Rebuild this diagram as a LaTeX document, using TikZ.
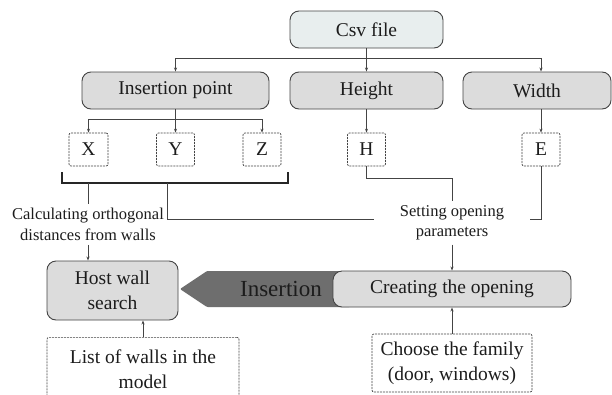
\documentclass[tikz,border=0pt]{standalone}
\usepackage{fontspec}
\setmainfont{Liberation Serif}
\usetikzlibrary{arrows.meta,calc}
\definecolor{ln}{HTML}{444444}
\definecolor{tx}{HTML}{1C1C1C}
\definecolor{csvfill}{HTML}{E8EEEE}
\definecolor{boxfill}{HTML}{DCDCDC}
\definecolor{arrfill}{HTML}{6E6E6E}
\tikzset{
  mainbox/.style={draw=ln, line width=0.9pt, rounded corners=9pt, fill=boxfill, text=tx,
    font=\fontsize{19.5}{23}\selectfont, inner sep=0pt, align=center},
  varbox/.style={draw=ln, dash pattern=on 2pt off 1pt, line width=0.7pt, rounded corners=2pt,
    text=tx, font=\fontsize{19.5}{23}\selectfont, inner sep=0pt, align=center},
  lbl/.style={text=tx, font=\fontsize{16.5}{20.5}\selectfont, align=center, inner sep=4pt},
  conn/.style={draw=ln, line width=0.7pt},
  arr/.style={conn, -{Stealth[length=4pt,width=3pt]}},
}
\begin{document}
\begin{tikzpicture}[x=1pt,y=-1pt]
\useasboundingbox (0,0) rectangle (612,394);
\fill[white] (0,0) rectangle (612,394);
% top level
\node[mainbox, fill=csvfill, minimum width=153pt, minimum height=37pt] (csv) at (366.5,29.5) {Csv file};
\node[mainbox, minimum width=187pt, minimum height=37pt] (ins) at (175.5,90.5) {Insertion point};
\node[mainbox, minimum width=153pt, minimum height=37pt] (hgt) at (366.5,90.5) {Height};
\node[mainbox, minimum width=148pt, minimum height=37pt] (wid) at (537,90.5) {Width};
% variables
\node[varbox, minimum width=39pt, minimum height=33pt] (X) at (88.5,149.5) {X};
\node[varbox, minimum width=38pt, minimum height=33pt] (Y) at (175.5,149.5) {Y};
\node[varbox, minimum width=38pt, minimum height=33pt] (Z) at (262,149.5) {Z};
\node[varbox, minimum width=38pt, minimum height=33pt] (H) at (366.5,149.5) {H};
\node[varbox, minimum width=38pt, minimum height=33pt] (E) at (541,149.5) {E};
% labels
\node[lbl] (calc) at (88,224.5) {Calculating orthogonal\\distances from walls};
\node[lbl, minimum width=155pt] (set) at (452,223) {Setting opening\\parameters};
% bottom boxes
\node[mainbox, minimum width=131pt, minimum height=59pt, font=\fontsize{19.5}{25}\selectfont] (host) at (112.5,290.5) {Host wall\\search};
\coordinate (tip) at (180,289);
\fill[arrfill, rounded corners=1pt] (tip) -- (207,271) -- (350,271) -- (350,307) -- (207,307) -- cycle;
\node[text=tx, font=\fontsize{23}{26}\selectfont, inner sep=0pt] (insl) at (281,289) {Insertion};
\node[mainbox, minimum width=238pt, minimum height=36pt] (cre) at (452,289) {Creating the opening};
\node[varbox, minimum width=192pt, minimum height=64pt, anchor=north, font=\fontsize{19.5}{25}\selectfont, text depth=0pt] (list) at (143,337) {List of walls in the\\model};
\node[varbox, minimum width=160pt, minimum height=58pt, font=\fontsize{19.5}{25}\selectfont] (fam) at (452,363) {Choose the family\\(door, windows)};
% connectors top
\coordinate (j1) at (366.5,58);
\draw[arr] (csv.south) -- (hgt.north);
\draw[arr] (j1) -| (ins.north);
\draw[arr] (j1) -| (wid.north -| E.north);
\coordinate (j2) at (175.5,119);
\draw[arr] (ins.south) -- (Y.north);
\draw[arr] (j2) -| (X.north);
\draw[arr] (j2) -| (Z.north);
\draw[arr] (hgt.south) -- (H.north);
\draw[arr] (wid.south -| E.north) -- (E.north);
% bracket
\coordinate (bl) at (62,172);
\coordinate (br) at (288,172);
\draw[line width=1.8pt, black!85] (bl) -- (62,183) -- (288,183) -- (br);
\coordinate (b1) at (88,183);
\coordinate (b2) at (167,183);
\draw[conn] (b1) -- (calc.north);
\draw[arr] (calc.south) -- (calc.south |- host.north);
\draw[conn] (b2) |- ($(set.west)+(0,-4)$);
\draw[conn] (E.south) |- ($(set.east)+(0,-4)$);
\draw[conn] (H.south) -- ++(0,12) -| (set.north);
\draw[arr] (set.south) -- (cre.north);
\draw[arr] (fam.north) -- (cre.south);
\draw[arr] (list.north) -- (list.north |- host.south);
\end{tikzpicture}
\end{document}
